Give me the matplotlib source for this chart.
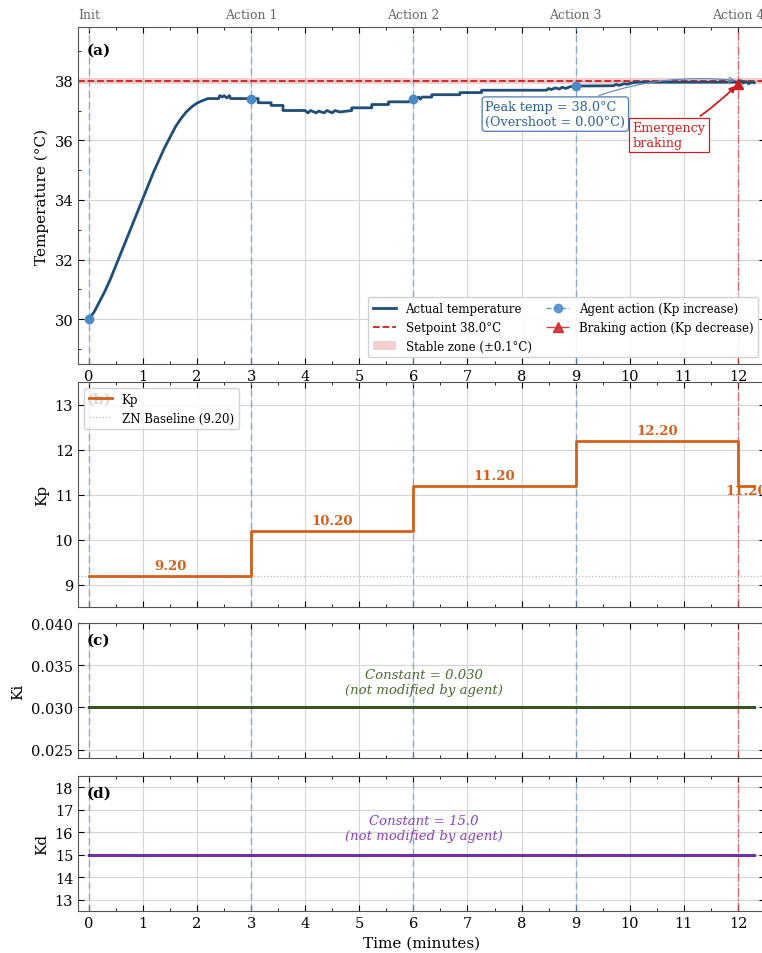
import matplotlib
matplotlib.use("Agg")
import matplotlib.pyplot as plt
from matplotlib.lines import Line2D
from matplotlib.patches import Patch
from matplotlib.ticker import MultipleLocator, FormatStrFormatter

plt.rcParams["font.family"] = "DejaVu Serif"
plt.rcParams["mathtext.fontset"] = "dejavuserif"

# ---- data: (minutes, degC) ----
temp_trace = [
    (0.0, 30.0), (0.1, 30.25), (0.2, 30.6), (0.3, 30.95), (0.4, 31.35),
    (0.5, 31.8), (0.6, 32.25), (0.7, 32.7), (0.8, 33.15), (0.9, 33.6),
    (1.0, 34.05), (1.1, 34.5), (1.2, 34.95), (1.3, 35.35), (1.4, 35.75),
    (1.5, 36.1), (1.6, 36.45), (1.7, 36.72), (1.8, 36.95), (1.9, 37.12),
    (2.0, 37.25), (2.1, 37.33), (2.2, 37.4), (2.4, 37.4), (2.42, 37.5),
    (2.47, 37.45), (2.5, 37.5), (2.55, 37.42), (2.6, 37.5), (2.62, 37.4),
    (3.0, 37.4), (3.13, 37.4), (3.13, 37.26), (3.37, 37.26), (3.37, 37.17),
    (3.59, 37.17), (3.59, 37.0), (4.0, 37.0), (4.05, 36.92), (4.1, 37.0),
    (4.2, 36.92), (4.25, 36.98), (4.35, 36.92), (4.4, 37.0), (4.5, 36.92),
    (4.55, 37.0), (4.64, 36.95), (4.86, 37.0), (4.86, 37.09), (5.23, 37.09),
    (5.23, 37.2), (5.54, 37.2), (5.54, 37.29), (5.92, 37.29), (5.98, 37.4),
    (6.05, 37.4), (6.1, 37.45), (6.13, 37.38), (6.16, 37.45), (6.34, 37.45),
    (6.34, 37.53), (6.86, 37.53), (6.86, 37.6), (7.26, 37.6), (7.26, 37.68),
    (8.46, 37.68), (8.5, 37.74), (8.55, 37.7), (8.62, 37.76), (8.7, 37.72),
    (8.75, 37.78), (8.82, 37.74), (8.9, 37.8), (9.0, 37.82), (9.7, 37.83),
    (9.75, 37.88), (9.8, 37.84), (9.9, 37.9), (9.95, 37.88), (10.05, 37.93),
    (10.15, 37.95), (11.98, 37.95), (12.05, 38.0), (12.1, 37.92),
    (12.15, 37.97), (12.2, 37.9), (12.25, 37.96), (12.3, 37.93),
]
temp_time = [p[0] for p in temp_trace]
temp_vals = [p[1] for p in temp_trace]

setpoint = 38.0
stable_band = 0.1
peak_temp = 38.0
peak_time = 12.0

action_times = [0, 3, 6, 9]
action_temps = [30.0, 37.4, 37.4, 37.82]
brake_time = 12
brake_temp = 37.9
top_labels = ["Init", "Action 1", "Action 2", "Action 3", "Action 4"]
top_ticks = [0, 3, 6, 9, 12]

kp_times = [0, 3, 6, 9, 12, 12.3]
kp_vals = [9.2, 10.2, 11.2, 12.2, 11.2, 11.2]
kp_baseline = 9.2

ki_times = [0, 12.3]
ki_vals = [0.03, 0.03]
kd_times = [0, 12.3]
kd_vals = [15.0, 15.0]

C_TEMP = "#1f4e79"
C_ACT = "#4a8ac8"
C_RED = "#cc1f1f"
C_KP = "#d2601a"
C_KI = "#375623"
C_KD = "#7030a0"

W, H = 762, 954
fig = plt.figure(figsize=(W / 100, H / 100), dpi=100)


def box(top, bottom):
    # axes box in pixel rows; right edge runs past the canvas like the original
    left, right = 78, 765
    return [left / W, 1 - bottom / H, (right - left) / W, (bottom - top) / H]


ax_a = fig.add_axes(box(28, 365))
ax_b = fig.add_axes(box(383, 608), sharex=ax_a)
ax_c = fig.add_axes(box(624, 759), sharex=ax_a)
ax_d = fig.add_axes(box(777, 912), sharex=ax_a)
axes = [ax_a, ax_b, ax_c, ax_d]

for ax in axes:
    ax.set_xlim(-0.2, 12.5)
    ax.xaxis.set_major_locator(MultipleLocator(1))
    ax.xaxis.set_minor_locator(MultipleLocator(0.5))
    ax.tick_params(which="both", direction="in", top=True, right=True,
                   labelsize=10.5)
    ax.tick_params(which="major", length=4)
    ax.tick_params(which="minor", length=2.5)
    ax.grid(True, which="major", color="#d4d4d4", lw=0.8)
    ax.set_axisbelow(True)
    for s in ax.spines.values():
        s.set_color("#555555")
    for t in action_times:
        ax.axvline(t, color="#6a9ad0", ls=(0, (5, 3)), lw=1.0, alpha=0.75,
                   zorder=1)
    ax.axvline(brake_time, color="#d04848", ls="-.", lw=1.0, alpha=0.75,
               zorder=1)

for ax in [ax_b, ax_c]:
    ax.tick_params(labelbottom=False)

# (a) temperature
ax_a.axhspan(setpoint - stable_band, setpoint + stable_band,
             color="#e8a0a0", alpha=0.5, lw=0, zorder=1)
ax_a.axhline(setpoint, color=C_RED, ls="--", lw=1.3, zorder=2)
ax_a.plot(temp_time, temp_vals, color=C_TEMP, lw=2.0, zorder=3)
ax_a.plot(action_times, action_temps, "o", color=C_ACT, ms=6, zorder=4)
ax_a.plot([brake_time], [brake_temp], "^", color=C_RED, ms=7, zorder=4)
ax_a.set_ylim(28.5, 39.8)
ax_a.yaxis.set_major_locator(MultipleLocator(2))
ax_a.yaxis.set_minor_locator(MultipleLocator(1))
ax_a.set_ylabel("Temperature (°C)", fontsize=11)
ax_a.text(0.012, 0.955, "(a)", transform=ax_a.transAxes, fontsize=11,
          fontweight="bold", va="top")

top = ax_a.secondary_xaxis("top")
top.set_xticks(top_ticks)
top.set_xticklabels(top_labels)
top.tick_params(length=0, labelsize=9, labelcolor="#666666", pad=4)
top.spines["top"].set_visible(False)

ax_a.annotate(f"Peak temp = {peak_temp:.1f}°C\n(Overshoot = {peak_temp - setpoint:.2f}°C)",
              xy=(peak_time, peak_temp), xytext=(7.33, 36.88), fontsize=9.2,
              color="#2a5f96", ha="left", va="center",
              bbox=dict(boxstyle="round,pad=0.25", fc="white", ec="#4a7ab0",
                        lw=0.9),
              arrowprops=dict(arrowstyle="->", color="#6a8db8", lw=0.9,
                              connectionstyle="arc3,rad=-0.15"),
              zorder=6)
ax_a.annotate("Emergency\nbraking", xy=(brake_time, brake_temp),
              xytext=(10.05, 36.17), fontsize=9.2, color=C_RED,
              ha="left", va="center",
              bbox=dict(boxstyle="square,pad=0.25", fc="white", ec=C_RED,
                        lw=0.9),
              arrowprops=dict(arrowstyle="-|>", color=C_RED, lw=1.3,
                              connectionstyle="arc3,rad=0.08"),
              zorder=6)

handles_a = [
    Line2D([], [], color=C_TEMP, lw=2),
    Line2D([], [], color=C_RED, ls="--", lw=1.3),
    Patch(fc="#e8a0a0", alpha=0.5, lw=0),
    Line2D([], [], color=C_ACT, ls="--", marker="o", ms=6, lw=1, alpha=0.85),
    Line2D([], [], color=C_RED, ls="-.", marker="^", ms=7, lw=1, alpha=0.85),
]
labels_a = ["Actual temperature", f"Setpoint {setpoint:.1f}°C",
            f"Stable zone (±{stable_band:.1f}°C)", "Agent action (Kp increase)",
            "Braking action (Kp decrease)"]
ax_a.legend(handles_a, labels_a, ncol=2, loc="lower right",
            bbox_to_anchor=(0.99, 0.02), borderaxespad=0, fontsize=8.5,
            framealpha=0.9, edgecolor="#cccccc", columnspacing=1.2)

# (b) Kp
ax_b.text(0.012, 0.955, "(b)", transform=ax_b.transAxes, fontsize=11,
          fontweight="bold", va="top")
ax_b.plot(kp_times, kp_vals, drawstyle="steps-post", color=C_KP, lw=2.0,
          label="Kp", zorder=3)
ax_b.axhline(kp_baseline, color="#bbbbbb", ls=":", lw=0.9,
             label=f"ZN Baseline ({kp_baseline:.2f})", zorder=2)
for i in range(4):
    mid = (kp_times[i] + kp_times[i + 1]) / 2
    ax_b.text(mid, kp_vals[i] + 0.08, f"{kp_vals[i]:.2f}", color=C_KP,
              fontsize=9.5, fontweight="bold", ha="center", va="bottom")
ax_b.text((kp_times[4] + kp_times[5]) / 2, kp_vals[4] - 0.11,
          f"{kp_vals[4]:.2f}", color=C_KP, fontsize=9.5, fontweight="bold",
          ha="center", va="center")
ax_b.set_ylim(8.5, 13.5)
ax_b.yaxis.set_major_locator(MultipleLocator(1))
ax_b.set_ylabel("Kp", fontsize=11)
ax_b.legend(loc="upper left", fontsize=8.5, framealpha=0.85,
            edgecolor="#cccccc")

# (c) Ki
ax_c.plot(ki_times, ki_vals, color=C_KI, lw=2.2, zorder=3)
ax_c.text(6.2, 0.033, f"Constant = {ki_vals[0]:.3f}\n(not modified by agent)",
          color="#4a6b2f", fontsize=9.5, style="italic", ha="center",
          va="center")
ax_c.set_ylim(0.024, 0.040)
ax_c.yaxis.set_major_locator(MultipleLocator(0.005))
ax_c.yaxis.set_major_formatter(FormatStrFormatter("%.3f"))
ax_c.set_ylabel("Ki", fontsize=11)
ax_c.text(0.012, 0.93, "(c)", transform=ax_c.transAxes, fontsize=11,
          fontweight="bold", va="top")

# (d) Kd
ax_d.plot(kd_times, kd_vals, color=C_KD, lw=2.2, zorder=3)
ax_d.text(6.2, 16.2, f"Constant = {kd_vals[0]:.1f}\n(not modified by agent)",
          color="#8a3fc0", fontsize=9.5, style="italic", ha="center",
          va="center")
ax_d.set_ylim(12.5, 18.5)
ax_d.yaxis.set_major_locator(MultipleLocator(1))
ax_d.set_ylabel("Kd", fontsize=11)
ax_d.set_xlabel("Time (minutes)", fontsize=11)
ax_d.text(0.012, 0.93, "(d)", transform=ax_d.transAxes, fontsize=11,
          fontweight="bold", va="top")

fig.savefig("out.png", dpi=100)
